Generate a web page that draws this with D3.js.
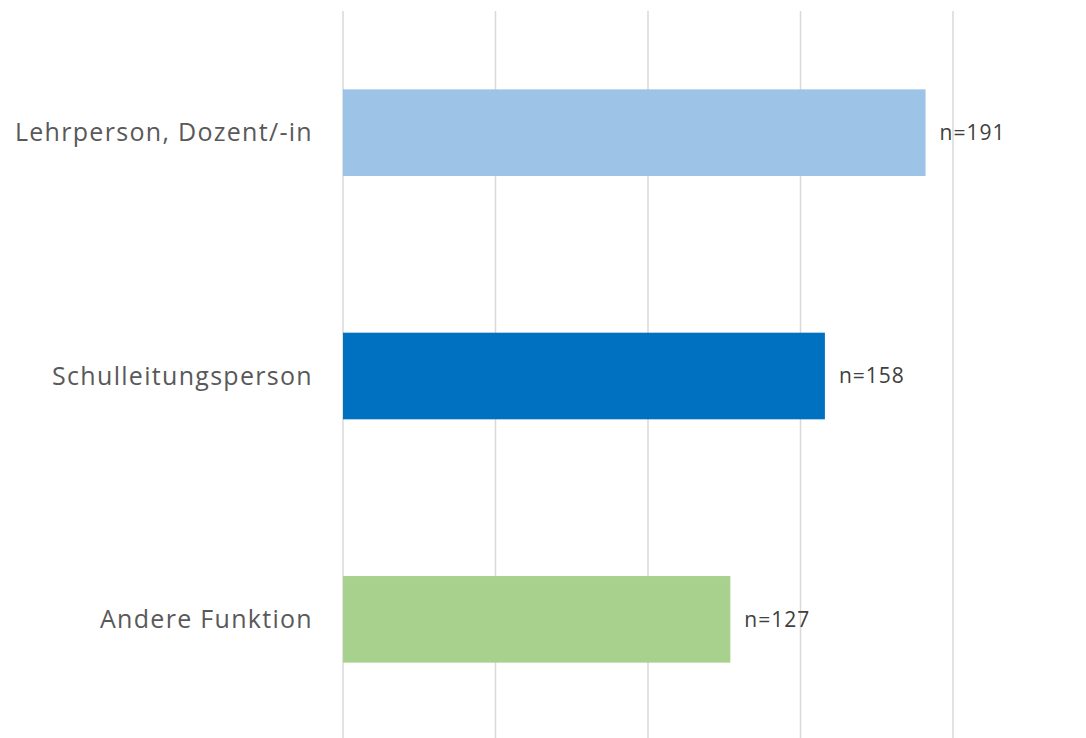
<!DOCTYPE html>
<html>
<head>
<meta charset="utf-8">
<script src="https://cdn.jsdelivr.net/npm/d3@7"></script>
<style>
  body { margin: 0; background: #fff; }
  text { font-family: "Open Sans", "Noto Sans", sans-serif; }
</style>
</head>
<body>
<div id="chart"></div>
<script>
// data
var categories = ["Lehrperson, Dozent/-in", "Schulleitungsperson", "Andere Funktion"];
var values = [191, 158, 127];
var valueLabels = ["n=191", "n=158", "n=127"];
var barColors = ["#9DC3E6", "#0070C0", "#A9D18E"];
var gridTicks = [0, 50, 100, 150, 200];

var svgWidth = 1086;
var svgHeight = 738;

var svg = d3.select("#chart")
    .append("svg")
    .attr("width", svgWidth)
    .attr("height", svgHeight);

var xScale = d3.scaleLinear()
    .domain([0, 200])
    .range([343, 953]);

var yScale = d3.scaleBand()
    .domain(categories)
    .range([11, 741])
    .paddingInner(0.644)
    .paddingOuter(0.322);

// vertical gridlines
svg.append("g")
    .selectAll("line")
    .data(gridTicks)
    .enter()
    .append("line")
    .attr("x1", d => xScale(d))
    .attr("x2", d => xScale(d))
    .attr("y1", 11)
    .attr("y2", svgHeight)
    .attr("stroke", "#D9D9D9")
    .attr("stroke-width", 1.5);

var data = categories.map((c, i) => ({ cat: c, value: values[i], label: valueLabels[i], color: barColors[i] }));

svg.append("g")
    .selectAll("rect")
    .data(data)
    .enter()
    .append("rect")
    .attr("x", xScale(0))
    .attr("y", d => yScale(d.cat))
    .attr("width", d => xScale(d.value) - xScale(0))
    .attr("height", yScale.bandwidth())
    .attr("fill", d => d.color);

// value labels
svg.append("g")
    .selectAll("text")
    .data(data)
    .enter()
    .append("text")
    .attr("x", d => xScale(d.value) + 14)
    .attr("y", d => yScale(d.cat) + yScale.bandwidth() / 2)
    .attr("dy", "0.35em")
    .style("font-size", "21px")
    .style("letter-spacing", "1px")
    .style("fill", "#404040")
    .text(d => d.label);

// category labels
svg.append("g")
    .selectAll("text")
    .data(data)
    .enter()
    .append("text")
    .attr("x", 313)
    .attr("y", d => yScale(d.cat) + yScale.bandwidth() / 2)
    .attr("dy", "0.35em")
    .style("font-size", "25px")
    .style("letter-spacing", "1.3px")
    .style("text-anchor", "end")
    .style("fill", "#595959")
    .text(d => d.cat);
</script>
</body>
</html>
